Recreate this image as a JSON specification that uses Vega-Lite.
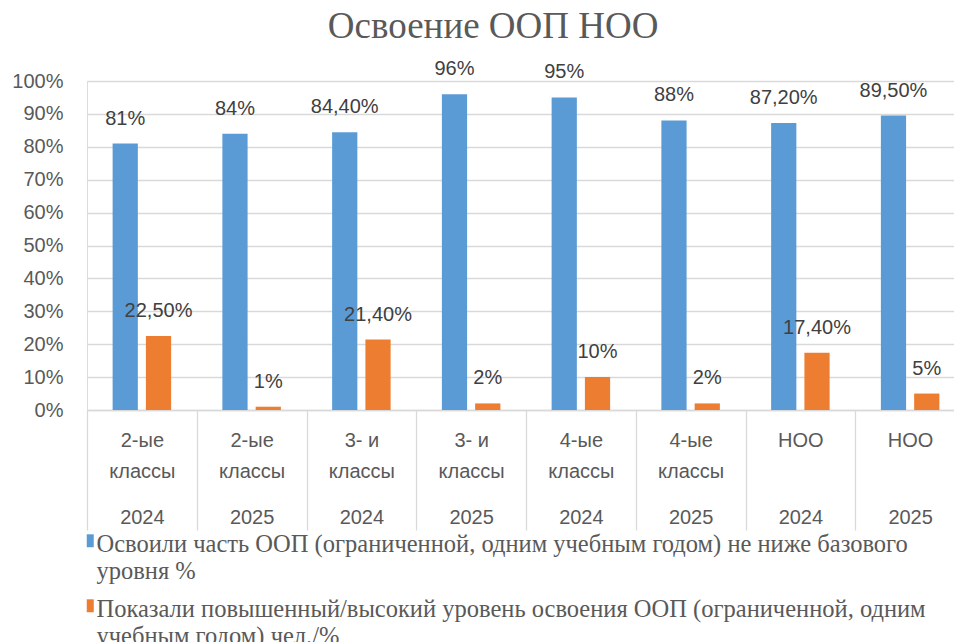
{
  "$schema": "https://vega.github.io/schema/vega-lite/v6.json",
  "width": 878,
  "height": 329,
  "autosize": {"type": "none"},
  "padding": {"left": 87, "top": 81, "right": 0, "bottom": 232},
  "background": "white",
  "title": {"text": "Освоение ООП НОО", "font": "Liberation Serif", "fontSize": 37, "fontWeight": "normal", "color": "#595959", "anchor": "start", "dx": 316, "offset": 13},
  "data": {"values": [
    {"cat": "2-ые|классы|2024", "series": "Освоили часть ООП (ограниченной,  одним учебным годом) не ниже базового|уровня %", "value": 81, "label": "81%"},
    {"cat": "2-ые|классы|2024", "series": "Показали повышенный/высокий уровень освоения ООП (ограниченной, одним|учебным годом) чел./%", "value": 22.5, "label": "22,50%"},
    {"cat": "2-ые|классы|2025", "series": "Освоили часть ООП (ограниченной,  одним учебным годом) не ниже базового|уровня %", "value": 84, "label": "84%"},
    {"cat": "2-ые|классы|2025", "series": "Показали повышенный/высокий уровень освоения ООП (ограниченной, одним|учебным годом) чел./%", "value": 1, "label": "1%"},
    {"cat": "3- и|классы|2024", "series": "Освоили часть ООП (ограниченной,  одним учебным годом) не ниже базового|уровня %", "value": 84.4, "label": "84,40%"},
    {"cat": "3- и|классы|2024", "series": "Показали повышенный/высокий уровень освоения ООП (ограниченной, одним|учебным годом) чел./%", "value": 21.4, "label": "21,40%"},
    {"cat": "3- и|классы|2025", "series": "Освоили часть ООП (ограниченной,  одним учебным годом) не ниже базового|уровня %", "value": 96, "label": "96%"},
    {"cat": "3- и|классы|2025", "series": "Показали повышенный/высокий уровень освоения ООП (ограниченной, одним|учебным годом) чел./%", "value": 2, "label": "2%"},
    {"cat": "4-ые|классы|2024", "series": "Освоили часть ООП (ограниченной,  одним учебным годом) не ниже базового|уровня %", "value": 95, "label": "95%"},
    {"cat": "4-ые|классы|2024", "series": "Показали повышенный/высокий уровень освоения ООП (ограниченной, одним|учебным годом) чел./%", "value": 10, "label": "10%"},
    {"cat": "4-ые|классы|2025", "series": "Освоили часть ООП (ограниченной,  одним учебным годом) не ниже базового|уровня %", "value": 88, "label": "88%"},
    {"cat": "4-ые|классы|2025", "series": "Показали повышенный/высокий уровень освоения ООП (ограниченной, одним|учебным годом) чел./%", "value": 2, "label": "2%"},
    {"cat": "НОО||2024", "series": "Освоили часть ООП (ограниченной,  одним учебным годом) не ниже базового|уровня %", "value": 87.2, "label": "87,20%"},
    {"cat": "НОО||2024", "series": "Показали повышенный/высокий уровень освоения ООП (ограниченной, одним|учебным годом) чел./%", "value": 17.4, "label": "17,40%"},
    {"cat": "НОО||2025", "series": "Освоили часть ООП (ограниченной,  одним учебным годом) не ниже базового|уровня %", "value": 89.5, "label": "89,50%"},
    {"cat": "НОО||2025", "series": "Показали повышенный/высокий уровень освоения ООП (ограниченной, одним|учебным годом) чел./%", "value": 5, "label": "5%"}
  ]},
  "encoding": {
    "x": {
      "field": "cat", "type": "nominal", "sort": null,
      "scale": {"paddingInner": 0, "paddingOuter": 0},
      "axis": {
        "title": null, "grid": false, "labelAngle": 0,
        "domain": true, "domainColor": "#d9d9d9", "domainWidth": 1.3,
        "ticks": true, "tickBand": "extent", "tickSize": 120, "tickColor": "#d9d9d9", "tickWidth": 1.3,
        "labelExpr": "[split(datum.label,'|')[0], '\u200b', (split(datum.label,'|')[1] || '\u200b'), '\u200b', '\u200b', split(datum.label,'|')[2]]",
        "labelLineHeight": 15.5, "labelBaseline": "top", "labelPadding": -100,
        "labelFont": "Liberation Sans", "labelFontSize": 20, "labelColor": "#595959", "labelLimit": 200
      }
    },
    "xOffset": {"field": "series", "type": "nominal", "sort": null, "scale": {"paddingInner": 0.242, "paddingOuter": 0.77}},
    "y": {
      "field": "value", "type": "quantitative",
      "scale": {"domain": [0, 100], "nice": false},
      "axis": {
        "title": null, "values": [0, 10, 20, 30, 40, 50, 60, 70, 80, 90, 100],
        "labelExpr": "datum.value + '%'", "grid": true, "gridColor": "#d9d9d9", "gridWidth": 1.3,
        "domain": false, "ticks": false, "labelPadding": 24,
        "labelFont": "Liberation Sans", "labelFontSize": 20, "labelColor": "#595959"
      }
    }
  },
  "layer": [
    {
      "mark": {"type": "bar"},
      "encoding": {
        "color": {
          "field": "series", "type": "nominal", "sort": null,
          "scale": {"range": ["#5B9BD5", "#ED7D31"]},
          "legend": {
            "orient": "none", "legendX": -9, "legendY": 440, "direction": "vertical", "title": null,
            "padding": 0,
            "symbolType": "M-1,0.3H1V4H-1Z", "symbolSize": 49, "symbolStrokeWidth": 0,
            "labelFont": "Liberation Serif", "labelFontSize": 24.5, "labelColor": "#595959", "labelLimit": 900,
            "labelExpr": "split(datum.label, '|')", "labelLineHeight": 25, "labelBaseline": "top",
            "labelOffset": -6, "rowPadding": 2
          }
        }
      }
    },
    {
      "mark": {"type": "text", "baseline": "alphabetic", "dy": -19, "font": "Liberation Sans", "fontSize": 20, "color": "#404040"},
      "encoding": {"text": {"field": "label"}}
    }
  ]
}
